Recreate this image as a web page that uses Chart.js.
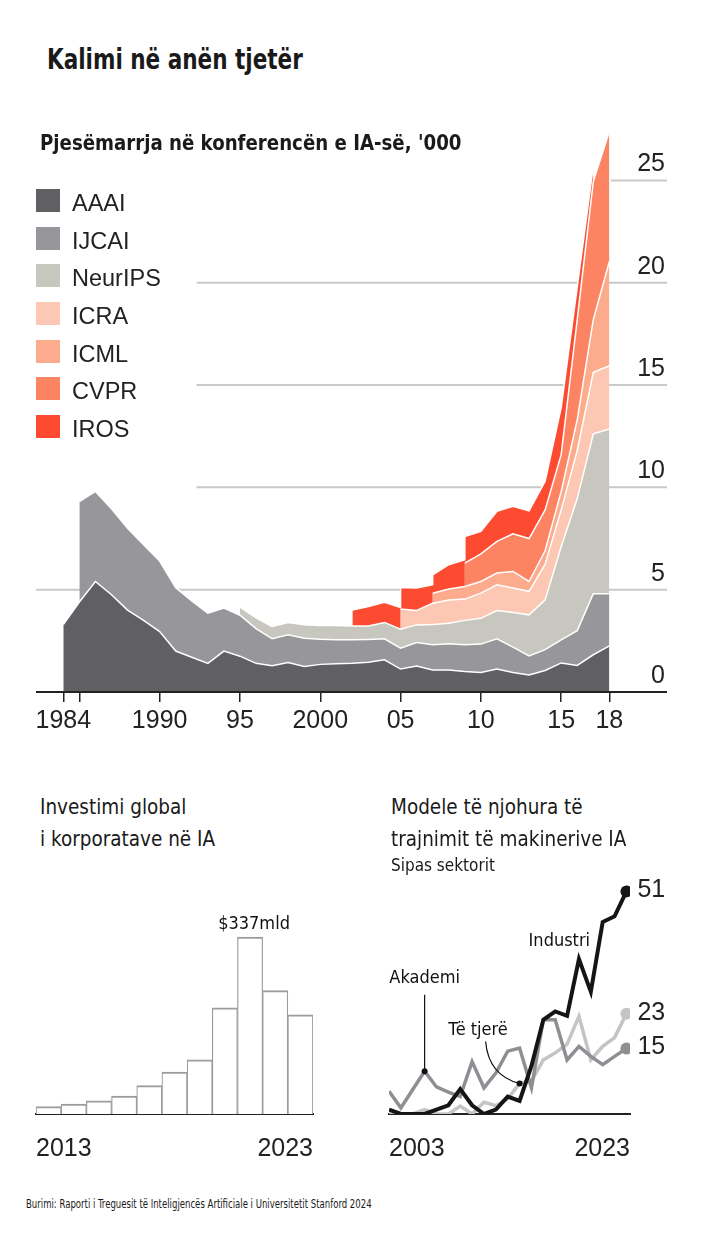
<!DOCTYPE html>
<html lang="sq">
<head>
<meta charset="utf-8">
<title>Kalimi në anën tjetër</title>
<script src="https://cdn.jsdelivr.net/npm/chart.js@4.4.1/dist/chart.umd.min.js"></script>
<style>
  html, body { margin: 0; padding: 0; background: #fff; }
  #page { position: relative; width: 701px; height: 1236px; overflow: hidden; color: #1a1a1a;
    font-family: "DejaVu Sans Condensed", "Liberation Sans Narrow", sans-serif; }
  .t { position: absolute; white-space: nowrap; line-height: 1; transform-origin: 0 50%; }
  canvas { position: absolute; }
  #legend { position: absolute; left: 36px; top: 189px; }
  .row { position: relative; height: 37.67px; width: 200px; }
  .sw { position: absolute; left: 0; top: 0; width: 24px; height: 23px; }
  .lab { position: absolute; left: 36px; top: 3px; font: 23.5px "Liberation Sans", Arial, sans-serif; line-height: 1; color: #222; }
</style>
</head>
<body>
<div id="page">
  <canvas id="confChart" width="701" height="640" style="left:0; top:100px;"></canvas>
  <canvas id="investChart" width="350" height="290" style="left:0; top:880px;"></canvas>
  <canvas id="modelChart" width="351" height="330" style="left:350px; top:840px;"></canvas>

  <div class="t" style="left:47px; top:46px; font-size:28px; font-weight:bold; transform:scaleX(0.855);">Kalimi në anën tjetër</div>
  <div class="t" style="left:40px; top:132px; font-size:21.5px; font-weight:bold; transform:scaleX(0.94);">Pjesëmarrja në konferencën e IA-së, '000</div>
  <div id="legend"></div>

  <div class="t" style="left:40px; top:797px; font-size:21px; transform:scaleX(0.975);">Investimi global</div>
  <div class="t" style="left:40px; top:829px; font-size:21px; transform:scaleX(0.975);">i korporatave në IA</div>
  <div class="t" style="left:391px; top:797px; font-size:21px; transform:scaleX(0.975);">Modele të njohura të</div>
  <div class="t" style="left:391px; top:829px; font-size:21px; transform:scaleX(0.975);">trajnimit të makinerive IA</div>
  <div class="t" style="left:391px; top:857px; font-size:17px;">Sipas sektorit</div>

  <div class="t" style="left:26px; top:1197px; font-size:13px; transform:scaleX(0.73);">Burimi: Raporti i Treguesit të Inteligjencës Artificiale i Universitetit Stanford 2024</div>
</div>

<script>
'use strict';

// Conference attendance, thousands
var confYears = [1984, 1985, 1986, 1987, 1988, 1989, 1990, 1991, 1992, 1993, 1994, 1995,
  1996, 1997, 1998, 1999, 2000, 2001, 2002, 2003, 2004, 2005, 2006, 2007, 2008, 2009,
  2010, 2011, 2012, 2013, 2014, 2015, 2016, 2017, 2018];
var aaai = [3.3, 4.4, 5.4, 4.75, 4.0, 3.5, 2.95, 2.0, 1.7, 1.4, 2.0, 1.75,
  1.4, 1.28, 1.44, 1.25, 1.35, 1.38, 1.4, 1.45, 1.57, 1.12, 1.27, 1.08, 1.08, 1.0,
  0.95, 1.12, 0.95, 0.83, 1.05, 1.42, 1.3, 1.82, 2.25];
var ijcai = [null, 4.9, 4.4, 4.2, 4.0, 3.7, 3.45, 3.1, 2.75, 2.45, 2.1, 2.0,
  1.7, 1.32, 1.36, 1.38, 1.23, 1.17, 1.15, 1.12, 1.03, 1.02, 1.15, 1.23, 1.28, 1.31,
  1.39, 1.48, 1.24, 0.93, 1.02, 1.13, 1.7, 2.98, 2.55];
var neurips = [null, null, null, null, null, null, null, null, null, null, null, 0.4,
  0.52, 0.6, 0.6, 0.65, 0.67, 0.7, 0.67, 0.65, 0.8, 0.93, 0.86, 0.99, 1.0, 1.19,
  1.26, 1.38, 1.7, 2.01, 2.43, 4.55, 6.45, 7.82, 8.05];
var icra = [null, null, null, null, null, null, null, null, null, null, null, null,
  null, null, null, null, null, null, null, null, null, 0.98, 0.7, 1.04, 1.14, 1.04,
  1.23, 1.26, 1.19, 1.15, 1.75, 1.8, 2.35, 3.0, 3.09];
var icml = [null, null, null, null, null, null, null, null, null, null, null, null,
  null, null, null, null, null, null, null, null, null, null, null, 0.49, 0.53, 0.62,
  0.57, 0.57, 0.81, 0.48, 0.65, 0.9, 1.5, 2.57, 5.1];
var cvpr = [null, null, null, null, null, null, null, null, null, null, null, null,
  null, null, null, null, null, null, null, null, null, null, null, null, null, 1.14,
  1.35, 1.55, 1.84, 2.1, 2.0, 1.8, 4.9, 6.76, 6.36];
var iros = [null, null, null, null, null, null, null, null, null, null, null, null,
  null, null, null, null, null, null, 0.78, 0.96, 0.98, 1.06, 1.1, 0.9, 1.19, 1.3,
  1.1, 1.47, 1.34, 1.35, 1.4, 2.3, 1.6, 0.75, null];
var confNames = ['AAAI', 'IJCAI', 'NeurIPS', 'ICRA', 'ICML', 'CVPR', 'IROS'];
var confColors = ['#5f5f64', '#96969b', '#c8c7bf', '#fdc8b3', '#fdab8d', '#fd8462', '#fd4b32'];
var confTicksY = [0, 5, 10, 15, 20, 25];
var confTicksX = [1984, 1985, 1990, 1995, 2000, 2005, 2010, 2015, 2018];
var confTickLabelsX = ['1984', '', '1990', '95', '2000', '05', '10', '15', '18'];

// Global corporate investment in AI, $bn
var investYears = [2013, 2014, 2015, 2016, 2017, 2018, 2019, 2020, 2021, 2022, 2023];
var investValues = [14, 19, 25, 34, 54, 80, 103, 202, 337, 235, 189];

// Notable machine-learning models by sector
var modelYears = [2003, 2004, 2005, 2006, 2007, 2008, 2009, 2010, 2011, 2012, 2013,
  2014, 2015, 2016, 2017, 2018, 2019, 2020, 2021, 2022, 2023];
var industry = [1, 0, 0, 0, 1, 2, 5.7, 2, 0, 1, 4, 3, 11, 21.6, 23.5, 22.5, 35.5, 28, 44, 45.3, 51];
var academia = [5.2, 1.4, 5.6, 9.8, 6.2, 5, 4, 12, 6, 9.4, 14.4, 15.1, 6, 21.6, 21.6, 12.4, 15.5, 13.2, 11.3, 13.2, 15];
var others = [0, 0, 0, 1, 0, 0, 1.8, 0, 2.7, 1.9, 3.5, 7, 7.5, 12.4, 14, 16, 22.4, 12.4, 15.5, 17.5, 23];
var modelNames = ['Industri', 'Akademi', 'Të tjerë'];
var modelColors = ['#151515', '#8e8e93', '#c4c4c4'];

Chart.defaults.font.family = '"Liberation Sans", Arial, sans-serif';
Chart.defaults.color = '#222';

//legend for the top chart
var legendBox = document.getElementById('legend');
confNames.forEach(function (name, k) {
  var row = document.createElement('div');
  row.className = 'row';
  row.innerHTML = '<span class="sw" style="background:' + confColors[k] + '"></span><span class="lab">' + name + '</span>';
  legendBox.appendChild(row);
});

//a series that starts under one already drawn makes the upper layers jump straight up,
//so every dataset gets an extra point just before that year
var confSeries = [aaai, ijcai, neurips, icra, icml, cvpr, iros];
var stepIdx = [];
confSeries.forEach(function (s, k) {
  var first = s.findIndex(function (v) { return v !== null; });
  if (first <= 0) return;
  for (var j = k + 1; j < confSeries.length; j++) {
    if (confSeries[j][first - 1] !== null) {
      stepIdx.push(first);
      return;
    }
  }
});

function buildPoints(s) {
  var pts = [];
  for (var i = 0; i < confYears.length; i++) {
    if (stepIdx.includes(i)) {
      var keep = s[i - 1] !== null && s[i] !== null;
      pts.push({x: confYears[i] - 0.001, y: keep ? s[i] : null});
    }
    pts.push({x: confYears[i], y: s[i]});
  }
  return pts;
}

// grid lines start at different places to leave room for the legend
var gridValues = [5, 10, 15, 20, 25];
var gridFrom = [1982.3, 1992.3, 1992.3, 1992.3, 2018.1];

var confGrid = {
  id: 'confGrid',
  beforeDatasetsDraw: function (chart) {
    var ctx = chart.ctx, xs = chart.scales.x, ys = chart.scales.y;
    ctx.save();
    ctx.strokeStyle = '#c9c9c9';
    ctx.lineWidth = 2;
    gridValues.forEach(function (v, i) {
      var y = ys.getPixelForValue(v);
      ctx.beginPath();
      ctx.moveTo(xs.getPixelForValue(gridFrom[i]), y);
      ctx.lineTo(chart.width - 34, y);
      ctx.stroke();
    });
    ctx.restore();
  },
  afterDatasetsDraw: function (chart) {
    var ctx = chart.ctx, y = chart.scales.y.getPixelForValue(0);
    ctx.save();
    ctx.strokeStyle = '#222';
    ctx.lineWidth = 2;
    ctx.beginPath();
    ctx.moveTo(chart.chartArea.left, y);
    ctx.lineTo(chart.width - 34, y);
    ctx.stroke();
    ctx.restore();
  }
};

new Chart(document.getElementById('confChart'), {
  type: 'line',
  data: {
    datasets: confSeries.map(function (s, k) {
      return {
        label: confNames[k],
        data: buildPoints(s),
        backgroundColor: confColors[k],
        borderColor: '#fff',
        borderWidth: 1.5,
        fill: 'stack',
        pointRadius: 0,
        tension: 0
      };
    })
  },
  options: {
    responsive: false,
    animation: false,
    layout: {padding: {left: 36, right: 36, top: 19, bottom: 0}},
    plugins: {legend: {display: false}, tooltip: {enabled: false}},
    scales: {
      x: {
        type: 'linear',
        min: 1982.3,
        max: 2018.04,
        afterBuildTicks: function (ax) { ax.ticks = confTicksX.map(function (v) { return {value: v}; }); },
        afterFit: function (ax) { ax.height = 48; },
        ticks: {
          callback: function (v, i) { return confTickLabelsX[i]; },
          font: {size: 25}, color: '#222', padding: 4, maxRotation: 0, autoSkip: false
        },
        grid: {drawOnChartArea: false, drawTicks: true, tickLength: 10, color: '#222', lineWidth: 1.5},
        border: {display: false}
      },
      y: {
        position: 'right',
        stacked: true,
        min: 0,
        max: 28,
        afterBuildTicks: function (ax) { ax.ticks = confTicksY.map(function (v) { return {value: v}; }); },
        afterFit: function (ax) { ax.width = 55; },
        ticks: {labelOffset: -16, crossAlign: 'far', font: {size: 25}, color: '#222', padding: 0},
        grid: {display: false},
        border: {display: false}
      }
    }
  },
  plugins: [confGrid]
});

//label over the tallest bar
var barNote = {
  id: 'barNote',
  afterDatasetsDraw: function (chart) {
    var ctx = chart.ctx;
    var top = investValues.indexOf(Math.max.apply(null, investValues));
    var bar = chart.getDatasetMeta(0).data[top];
    ctx.save();
    ctx.font = '18px "DejaVu Sans Condensed", sans-serif';
    ctx.fillStyle = '#111';
    ctx.textAlign = 'center';
    ctx.fillText('$' + investValues[top] + 'mld', bar.x + 4, bar.y - 8);
    ctx.restore();
  }
};

new Chart(document.getElementById('investChart'), {
  type: 'bar',
  data: {
    datasets: [{
      data: investYears.map(function (yr, i) { return {x: yr, y: investValues[i]}; }),
      backgroundColor: '#fff',
      borderColor: '#9c9c9c',
      borderWidth: {left: 1.2, right: 1.2, top: 2, bottom: 0},
      barPercentage: 1,
      categoryPercentage: 1
    }]
  },
  options: {
    responsive: false,
    animation: false,
    layout: {padding: {left: 36, right: 37, top: 24, bottom: 0}},
    plugins: {legend: {display: false}, tooltip: {enabled: false}},
    scales: {
      x: {
        type: 'linear',
        min: 2012.5,
        max: 2023.5,
        offset: false,
        z: 1,
        afterBuildTicks: function (ax) { ax.ticks = [{value: 2012.5}, {value: 2023.5}]; },
        afterFit: function (ax) { ax.height = 56; },
        ticks: {
          callback: function (v, i) { return i === 0 ? investYears[0] : investYears[investYears.length - 1]; },
          align: 'inner', font: {size: 25}, color: '#222', padding: 12, maxRotation: 0, autoSkip: false
        },
        grid: {display: false, offset: false},
        border: {display: true, color: '#222', width: 2}
      },
      y: {display: false, min: 0, max: 400}
    }
  },
  plugins: [barNote]
});

var academiaNote = 3; // 2006
var othersNote = 11;  // 2014

function dot(ctx, x, y, r) {
  ctx.beginPath();
  ctx.arc(x, y, r, 0, Math.PI * 2);
  ctx.fill();
}

var modelNotes = {
  id: 'modelNotes',
  afterDatasetsDraw: function (chart) {
    var ctx = chart.ctx, xs = chart.scales.x, ys = chart.scales.y;
    ctx.save();
    ctx.font = '25px "Liberation Sans", Arial, sans-serif';
    ctx.fillStyle = '#222';
    ctx.textAlign = 'left';
    ctx.textBaseline = 'middle';
    chart.data.datasets.forEach(function (ds, i) {
      var pts = chart.getDatasetMeta(i).data;
      var p = pts[pts.length - 1];
      ctx.fillText(String(Math.round(ds.data[ds.data.length - 1].y)), p.x + 11, p.y - 1);
    });

    ctx.font = '18px "DejaVu Sans Condensed", sans-serif';
    ctx.fillStyle = '#111';
    ctx.strokeStyle = '#111';
    ctx.lineWidth = 1.2;
    ctx.textAlign = 'center';
    ctx.fillText(modelNames[0], xs.getPixelForValue(2017.35), ys.getPixelForValue(39.6));

    var a = chart.getDatasetMeta(1).data[academiaNote];
    ctx.fillText(modelNames[1], a.x, ys.getPixelForValue(31.2));
    ctx.beginPath();
    ctx.moveTo(a.x, a.y);
    ctx.lineTo(a.x, ys.getPixelForValue(27.3));
    ctx.stroke();
    dot(ctx, a.x, a.y, 3);

    var o = chart.getDatasetMeta(2).data[othersNote];
    ctx.fillText(modelNames[2], xs.getPixelForValue(2010.5), ys.getPixelForValue(19.1));
    ctx.beginPath();
    ctx.moveTo(o.x - 34, o.y - 42);
    ctx.quadraticCurveTo(o.x - 31, o.y - 8, o.x, o.y);
    ctx.stroke();
    dot(ctx, o.x, o.y, 3);
    ctx.restore();
  }
};

function lastDot(c) {
  return c.dataIndex === modelYears.length - 1 ? 6 : 0;
}

new Chart(document.getElementById('modelChart'), {
  type: 'line',
  data: {
    datasets: [industry, academia, others].map(function (s, k) {
      return {
        label: modelNames[k],
        data: modelYears.map(function (yr, i) { return {x: yr, y: s[i]}; }),
        borderColor: modelColors[k],
        backgroundColor: modelColors[k],
        borderWidth: k === 0 ? 4 : 3.5,
        pointRadius: lastDot,
        pointBorderWidth: 0,
        fill: false,
        tension: 0
      };
    })
  },
  options: {
    responsive: false,
    animation: false,
    layout: {padding: {left: 39, right: 71, top: 34, bottom: 0}},
    plugins: {legend: {display: false}, tooltip: {enabled: false}},
    scales: {
      x: {
        type: 'linear',
        min: 2003,
        max: 2023.3,
        afterBuildTicks: function (ax) { ax.ticks = [{value: 2003}, {value: 2023.3}]; },
        afterFit: function (ax) { ax.height = 56; },
        ticks: {
          callback: function (v, i) { return i === 0 ? modelYears[0] : modelYears[modelYears.length - 1]; },
          align: 'inner', font: {size: 25}, color: '#222', padding: 12, maxRotation: 0, autoSkip: false
        },
        grid: {display: false},
        border: {display: true, color: '#222', width: 2}
      },
      y: {display: false, min: 0, max: 55}
    }
  },
  plugins: [modelNotes]
});
</script>
</body>
</html>
